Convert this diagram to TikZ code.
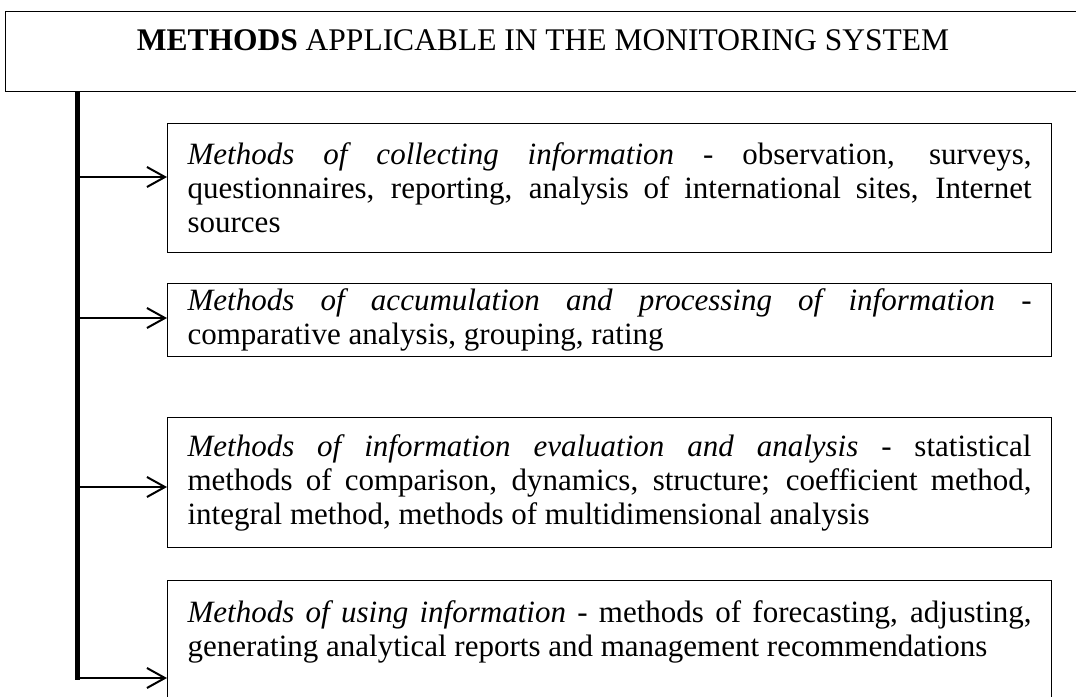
\documentclass[tikz,border=0pt]{standalone}
\usepackage{fontspec}
\setmainfont{Liberation Serif}
\usetikzlibrary{arrows.meta}
\begin{document}
\begin{tikzpicture}[x=1pt,y=-1pt,
  frame/.style={draw=black, line width=1.2pt},
  titlebox/.style={frame, anchor=north west, inner sep=0pt},
  heading/.style={anchor=base, inner sep=0pt, font=\fontsize{31.5}{34}\selectfont},
  methodbox/.style={frame, anchor=north west, text width=844pt, inner xsep=20pt,
    inner ysep=0pt, align=justify, font=\fontsize{31}{34}\selectfont},
  spine/.style={line width=5pt},
  link/.style={line width=2pt, -{Straight Barb[length=18pt,width=20pt,line width=2pt]}}
]
\clip (0,0) rectangle (1076,696);

% header box and its title
\node[titlebox, minimum width=1076pt, minimum height=80pt] (title) at (5,11) {};
\node[heading] (headtext) at (543,50)
  {\textbf{METHODS} APPLICABLE IN THE MONITORING SYSTEM};

% the four groups of methods
\node[methodbox, minimum height=129pt] (m1) at (167,123)
  {\textit{Methods of collecting information} - observation, surveys,\linebreak
   questionnaires, reporting, analysis of international sites, Internet\linebreak
   sources};
\node[methodbox, minimum height=73pt] (m2) at (167,283)
  {\textit{Methods of accumulation and processing of information} -\linebreak
   comparative analysis, grouping, rating};
\node[methodbox, minimum height=130pt] (m3) at (167,417)
  {\textit{Methods of information evaluation and analysis} - statistical\linebreak
   methods of comparison, dynamics, structure; coefficient method,\linebreak
   integral method, methods of multidimensional analysis};
\node[methodbox, minimum height=129pt] (m4) at (167,580)
  {\textit{Methods of using information} - methods of forecasting, adjusting,\linebreak
   generating analytical reports and management recommendations\par\mbox{}};

% vertical spine hanging from the header
\coordinate (spinetop) at (77.5,91);
\coordinate (spinebot) at (77.5,680);
\draw[spine] (spinetop) -- (spinebot);

% branches from the spine to each group
\coordinate (j1) at (77.5,177);
\coordinate (j2) at (77.5,318);
\coordinate (j3) at (77.5,487);
\coordinate (j4) at (77.5,678);
\draw[link] (j1) -- (j1 -| m1.west);
\draw[link] (j2) -- (j2 -| m2.west);
\draw[link] (j3) -- (j3 -| m3.west);
\draw[link] (j4) -- (j4 -| m4.west);
\end{tikzpicture}
\end{document}
